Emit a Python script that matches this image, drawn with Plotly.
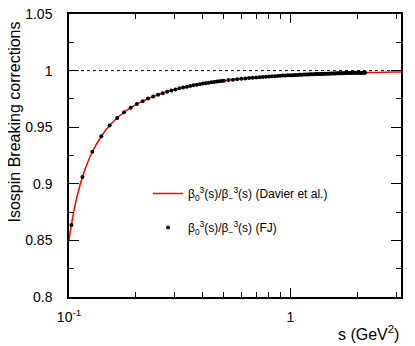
import plotly.graph_objects as go

# s values (GeV^2) and ratio for the FJ points
s_fj = [0.1025, 0.115, 0.1275, 0.14, 0.1525, 0.165, 0.1775, 0.19, 0.2025, 0.215,
        0.2275, 0.24, 0.2525, 0.265, 0.2775, 0.29, 0.3025, 0.315, 0.3275, 0.34,
        0.3525, 0.365, 0.3775, 0.39, 0.4025, 0.415, 0.4275, 0.44, 0.4525, 0.465,
        0.4775, 0.49, 0.5, 0.525, 0.55, 0.575, 0.6, 0.625, 0.65, 0.675,
        0.7, 0.725, 0.75, 0.775, 0.8, 0.825, 0.85, 0.875, 0.9, 0.925,
        0.95, 0.975, 1.0, 1.025, 1.05, 1.075, 1.1, 1.125, 1.15, 1.175,
        1.2, 1.225, 1.25, 1.275, 1.3, 1.325, 1.35, 1.375, 1.4, 1.425,
        1.45, 1.475, 1.5, 1.525, 1.55, 1.575, 1.6, 1.625, 1.65, 1.675,
        1.7, 1.725, 1.75, 1.775, 1.8, 1.825, 1.85, 1.875, 1.9, 1.925,
        1.95, 1.975, 2.0, 2.025, 2.05, 2.075, 2.1, 2.125, 2.15, 2.175]
r_fj = [0.8637, 0.9060, 0.9283, 0.9420, 0.9514, 0.9581, 0.9632, 0.9672, 0.9704, 0.9730,
        0.9753, 0.9771, 0.9787, 0.9801, 0.9814, 0.9824, 0.9834, 0.9843, 0.9850, 0.9857,
        0.9864, 0.9870, 0.9875, 0.9880, 0.9885, 0.9889, 0.9893, 0.9897, 0.9900, 0.9903,
        0.9906, 0.9909, 0.9911, 0.9916, 0.9920, 0.9924, 0.9928, 0.9931, 0.9934, 0.9937,
        0.9939, 0.9942, 0.9944, 0.9946, 0.9948, 0.9950, 0.9951, 0.9953, 0.9954, 0.9956,
        0.9957, 0.9958, 0.9959, 0.9960, 0.9961, 0.9962, 0.9963, 0.9964, 0.9965, 0.9966,
        0.9966, 0.9967, 0.9968, 0.9968, 0.9969, 0.9970, 0.9970, 0.9971, 0.9971, 0.9972,
        0.9972, 0.9973, 0.9973, 0.9974, 0.9974, 0.9975, 0.9975, 0.9976, 0.9976, 0.9976,
        0.9977, 0.9977, 0.9977, 0.9978, 0.9978, 0.9978, 0.9979, 0.9979, 0.9979, 0.9980,
        0.9980, 0.9980, 0.9980, 0.9981, 0.9981, 0.9981, 0.9981, 0.9982, 0.9982, 0.9982]

# Davier et al. curve
s_dav = [0.1, 0.1005, 0.101, 0.1025, 0.105, 0.1075, 0.11, 0.115, 0.12, 0.1275,
         0.14, 0.1525, 0.165, 0.1775, 0.19, 0.2025, 0.24, 0.29, 0.34, 0.39,
         0.44, 0.5, 0.6, 0.7, 0.8, 0.9, 1.0, 1.2, 1.4, 1.6,
         1.8, 2.0, 2.5, 3.0, 3.157]
r_dav = [0.8502, 0.8531, 0.8559, 0.8637, 0.8749, 0.8845, 0.8927, 0.9060, 0.9164, 0.9283,
         0.9420, 0.9514, 0.9581, 0.9632, 0.9672, 0.9704, 0.9771, 0.9824, 0.9857, 0.9880,
         0.9897, 0.9911, 0.9928, 0.9939, 0.9948, 0.9954, 0.9959, 0.9966, 0.9971, 0.9975,
         0.9978, 0.9980, 0.9984, 0.9987, 0.9988]

x_major = [0.1, 1]
x_major_text = ["10<sup>-1</sup>", "1"]
x_minor = [0.2, 0.3, 0.4, 0.5, 0.6, 0.7, 0.8, 0.9, 2, 3]

font = "Liberation Sans, Arial, sans-serif"

fig = go.Figure()
fig.add_trace(go.Scatter(
    x=s_dav, y=r_dav, mode='lines', line=dict(color='#ff0000', width=1.5, shape='spline'),
    name="β<sub>0</sub><sup>3</sup>(s)/β<sub>−</sub><sup>3</sup>(s) (Davier et al.)",
    legendgroup='a'
))
fig.add_trace(go.Scatter(
    x=s_fj, y=r_fj, mode='markers', marker=dict(color='black', size=4),
    name="β<sub>0</sub><sup>3</sup>(s)/β<sub>−</sub><sup>3</sup>(s) (FJ)",
    legendgroup='b'
))

# dotted reference line at 1
fig.add_shape(type='line', xref='paper', x0=0, x1=1, yref='y', y0=1, y1=1,
              line=dict(color='black', width=1, dash='dot'), layer='below')

# the page body adds an 8px offset, so size and margins compensate for it
fig.update_layout(
    width=407, height=338,
    margin=dict(l=61, r=14, t=6, b=49),
    plot_bgcolor='white', paper_bgcolor='white',
    font=dict(family=font, size=14, color='black'),
    showlegend=True,
    legend=dict(x=0.238, y=0.417, xanchor='left', yanchor='top',
                font=dict(size=12), bgcolor='rgba(0,0,0,0)',
                tracegroupgap=15, itemwidth=30),
    xaxis=dict(
        type='log', range=[-1, 0.4993], automargin=False,
        tickmode='array', tickvals=x_major, ticktext=x_major_text,
        ticks='inside', ticklen=9, tickwidth=1, tickcolor='black',
        minor=dict(tickmode='array', tickvals=x_minor, ticks='inside', ticklen=5,
                   tickwidth=1, tickcolor='black'),
        showline=True, linecolor='black', linewidth=1.5, mirror='allticks',
        showgrid=False, zeroline=False, ticklabelstandoff=6,
        ticklabeloverflow='allow',
    ),
    yaxis=dict(
        range=[0.8, 1.05], automargin=False, tickmode='array',
        tickvals=[0.8, 0.85, 0.9, 0.95, 1.0, 1.05],
        ticktext=['0.8', '0.85', '0.9', '0.95', '1', '1.05'],
        ticks='inside', ticklen=10, tickwidth=1, tickcolor='black',
        minor=dict(dtick=0.025, ticks='inside', ticklen=5, tickwidth=1, tickcolor='black'),
        showline=True, linecolor='black', linewidth=1.5, mirror='allticks',
        showgrid=False, zeroline=False, ticklabelstandoff=12,
        ticklabeloverflow='allow',
    ),
    annotations=[
        dict(text="Isospin Breaking corrections", textangle=-90,
             xref='paper', yref='paper', x=(14 - 69) / 332, y=1.0 - 6 / 283,
             xanchor='center', yanchor='top', showarrow=False,
             font=dict(size=16)),
        dict(text="s (GeV<sup>2</sup>)", xref='paper', yref='paper',
             x=1.0, y=(297 - 333) / 283, xanchor='right', yanchor='middle',
             showarrow=False, font=dict(size=16)),
    ],
)

fig.write_html("out.html")
